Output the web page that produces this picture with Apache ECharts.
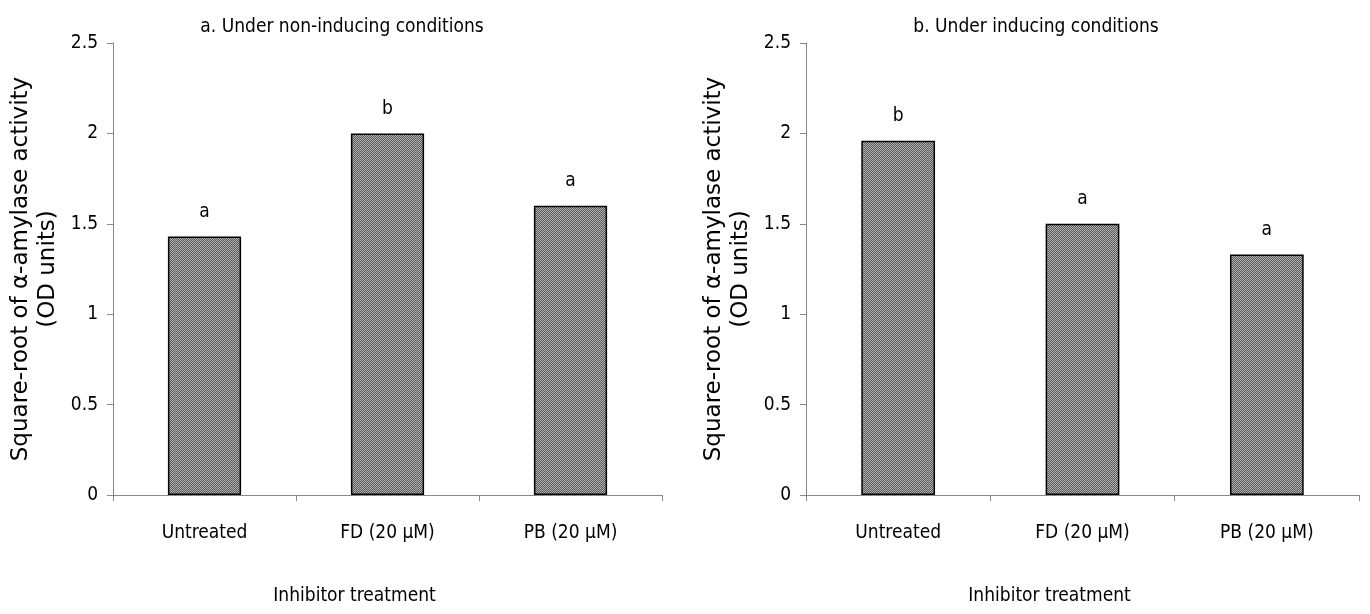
<!DOCTYPE html>
<html>
<head>
<meta charset="utf-8">
<script src="https://cdn.jsdelivr.net/npm/echarts@6/dist/echarts.min.js"></script>
<style>
html,body{margin:0;padding:0;background:#fff;}
#chart{width:1370px;height:614px;}
</style>
</head>
<body>
<div id="chart"></div>
<script>
const categories = ['Untreated', 'FD (20 \u00b5M)', 'PB (20 \u00b5M)'];
const valuesNonInducing = [1.43, 2.0, 1.6];
const valuesInducing = [1.96, 1.5, 1.33];
const lettersNonInducing = ['a', 'b', 'a'];
const lettersInducing = ['b', 'a', 'a'];
const titleA = 'a. Under non-inducing conditions';
const titleB = 'b. Under inducing conditions';
const yAxisName = 'Square-root of \u03b1-amylase activity\n(OD units)';
const xAxisName = 'Inhibitor treatment';
const yTicks = {min: 0, max: 2.5, interval: 0.5};

const NARROW = "'DejaVu Sans Condensed', 'Liberation Sans Narrow', sans-serif";
const WIDE = "'DejaVu Sans', Verdana, sans-serif";

// dotted fill pattern
const pc = document.createElement('canvas');
pc.width = 2; pc.height = 2;
const pctx = pc.getContext('2d');
pctx.fillStyle = '#575757'; pctx.fillRect(0, 0, 2, 2);
pctx.fillStyle = '#b4b4b4'; pctx.fillRect(0, 0, 1, 1); pctx.fillRect(1, 1, 1, 1);
const pattern = {image: pc, repeat: 'repeat'};

const axisGrey = '#888888';

function xAxisCfg(gridIndex) {
  return {
    type: 'category', gridIndex, data: categories,
    axisLine: {show: true, lineStyle: {color: axisGrey, width: 1}},
    axisTick: {show: true, length: 6, lineStyle: {color: axisGrey}},
    axisLabel: {color: '#000', fontFamily: NARROW, fontSize: 19, margin: 29},
    name: xAxisName, nameLocation: 'middle', nameGap: 92,
    nameTextStyle: {color: '#000', fontFamily: NARROW, fontSize: 19, padding: [0, 66, 0, 0]}
  };
}
function yAxisCfg(gridIndex) {
  return {
    type: 'value', gridIndex, min: yTicks.min, max: yTicks.max, interval: yTicks.interval,
    axisLine: {show: true, lineStyle: {color: axisGrey, width: 1}},
    axisTick: {show: true, length: 6, lineStyle: {color: axisGrey}},
    splitLine: {show: false},
    axisLabel: {color: '#000', fontFamily: NARROW, fontSize: 19, margin: 15},
    name: yAxisName, nameLocation: 'middle', nameGap: 51, nameRotate: 90,
    nameTextStyle: {color: '#000', fontFamily: WIDE, fontSize: 23, lineHeight: 27}
  };
}
function seriesCfg(idx, values, letters) {
  return {
    type: 'bar', xAxisIndex: idx, yAxisIndex: idx, data: values, barWidth: '40%',
    itemStyle: {color: pattern, borderColor: '#000', borderWidth: 1.5},
    label: {
      show: true, position: 'top', distance: 15, color: '#000',
      fontFamily: NARROW, fontSize: 19,
      formatter: p => letters[p.dataIndex]
    },
    emphasis: {disabled: true}, animation: false
  };
}

const chart = echarts.init(document.getElementById('chart'), null, {renderer: 'canvas'});
chart.setOption({
  backgroundColor: '#fff',
  animation: false,
  title: [
    {text: titleA, left: 337, top: 13, textAlign: 'center',
     textStyle: {color: '#000', fontFamily: NARROW, fontSize: 19, fontWeight: 'normal'}},
    {text: titleB, left: 1031, top: 13, textAlign: 'center',
     textStyle: {color: '#000', fontFamily: NARROW, fontSize: 19, fontWeight: 'normal'}}
  ],
  grid: [
    {left: 113, top: 43, width: 549, height: 452},
    {left: 806, top: 43, width: 553, height: 452}
  ],
  xAxis: [xAxisCfg(0), xAxisCfg(1)],
  yAxis: [yAxisCfg(0), yAxisCfg(1)],
  series: [seriesCfg(0, valuesNonInducing, lettersNonInducing), seriesCfg(1, valuesInducing, lettersInducing)]
});
</script>
</body>
</html>
